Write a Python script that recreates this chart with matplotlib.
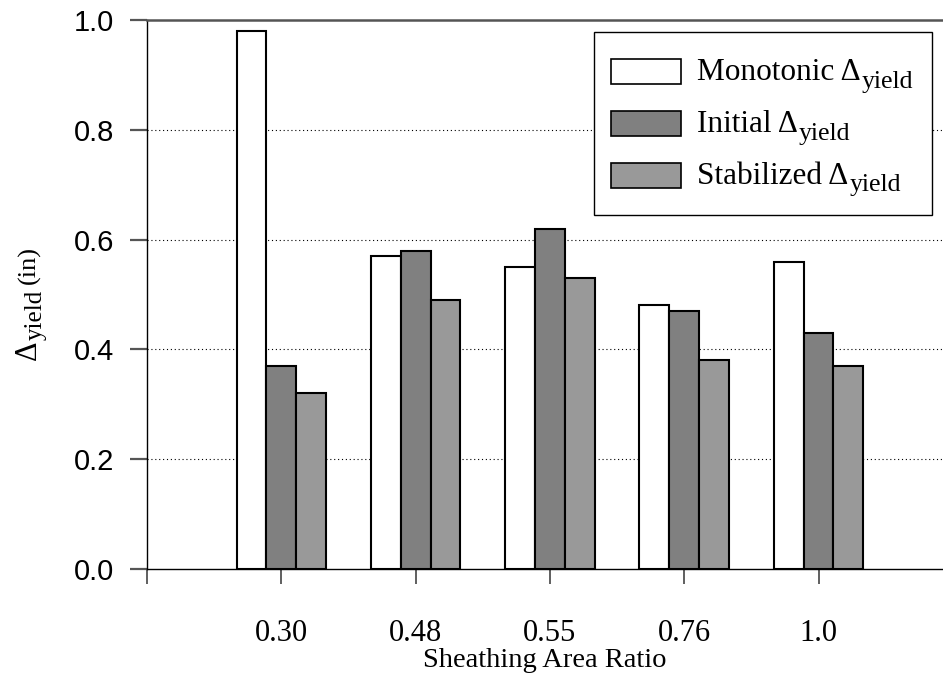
import numpy as np
import matplotlib
matplotlib.use("Agg")
import matplotlib.pyplot as plt
from matplotlib.patches import Rectangle

# data
categories = ["0.30", "0.48", "0.55", "0.76", "1.0"]
monotonic = [0.98, 0.57, 0.55, 0.48, 0.56]
initial = [0.37, 0.58, 0.62, 0.47, 0.43]
stabilized = [0.32, 0.49, 0.53, 0.38, 0.37]
series_names = ["Monotonic", "Initial", "Stabilized"]
y_ticks = [0.0, 0.2, 0.4, 0.6, 0.8, 1.0]

colors = ["white", "#808080", "#999999"]
serif = "Liberation Serif"
sans = "Liberation Sans"
W, H = 943, 681

fig = plt.figure(figsize=(W / 100, H / 100), dpi=100)
ax = fig.add_axes([147 / W, 112 / H, 796 / W, 549 / H])


def px(x, y):
    # image pixel (from top-left) -> figure fraction
    return x / W, (H - y) / H


x = np.arange(1, len(categories) + 1)
w = 0.222
for i, vals in enumerate([monotonic, initial, stabilized]):
    ax.bar(x + (i - 1) * w, vals, w, color=colors[i], edgecolor="black",
           linewidth=1.5, zorder=3)

ax.set_xlim(0, 796 / 134.3)
ax.set_ylim(0, 1.0)

ax.set_yticks(y_ticks)
ax.set_yticklabels(["%.1f" % t for t in y_ticks], family=sans, fontsize=21)
ax.tick_params(axis="y", direction="out", length=12.2, width=1.6, color="#555555", pad=11.5)

ax.set_xticks(np.arange(0, len(categories) + 1))
ax.set_xticklabels([""] + categories, family=serif, fontsize=22)
ax.tick_params(axis="x", direction="out", length=11, width=1.2, color="#444444", pad=25)

for t in y_ticks[1:-1]:
    ax.axhline(t, color="black", linewidth=0.8, linestyle=(0, (1, 2.5)), zorder=1)

ax.spines["right"].set_visible(False)
ax.spines["top"].set_color("#555555")
ax.spines["top"].set_linewidth(1.8)
ax.spines["left"].set_linewidth(1.0)
ax.spines["bottom"].set_linewidth(1.0)

ax.set_xlabel("Sheathing Area Ratio", family=serif, fontsize=20.5, labelpad=0)

renderer = fig.canvas.get_renderer()

# y label, built from pieces so the subscript can be sized like the reference
t1 = fig.text(*px(36, 360), "\u0394", rotation=90, rotation_mode="anchor",
              ha="left", va="baseline", family=serif, fontsize=22)
y_end = 360 - t1.get_window_extent(renderer).height
t2 = fig.text(*px(42, y_end), "yield", rotation=90, rotation_mode="anchor",
              ha="left", va="baseline", family=serif, fontsize=18)
y_end = y_end - t2.get_window_extent(renderer).height - 6
fig.text(*px(35, y_end), "(in)", rotation=90, rotation_mode="anchor",
         ha="left", va="baseline", family=serif, fontsize=19)

# legend box drawn by hand
fig.add_artist(Rectangle(px(594, 215), (932 - 594) / W, (215 - 32) / H,
                         transform=fig.transFigure, facecolor="white",
                         edgecolor="black", linewidth=1.0, zorder=5))
row_y = [71.5, 123.5, 175]
for i, name in enumerate(series_names):
    fig.add_artist(Rectangle(px(611, row_y[i] + 12.5), 70 / W, 25 / H,
                             transform=fig.transFigure, facecolor=colors[i],
                             edgecolor="black", linewidth=1.2, zorder=6))
    base = row_y[i] + 8.5
    tm = fig.text(*px(697, base), name + " \u0394", ha="left", va="baseline",
                  family=serif, fontsize=22.5, zorder=7)
    ext = tm.get_window_extent(renderer)
    fig.text(*px(ext.x1 + 1, base + 8), "yield", ha="left", va="baseline",
             family=serif, fontsize=18.5, zorder=7)

fig.savefig("out.png", dpi=100)
